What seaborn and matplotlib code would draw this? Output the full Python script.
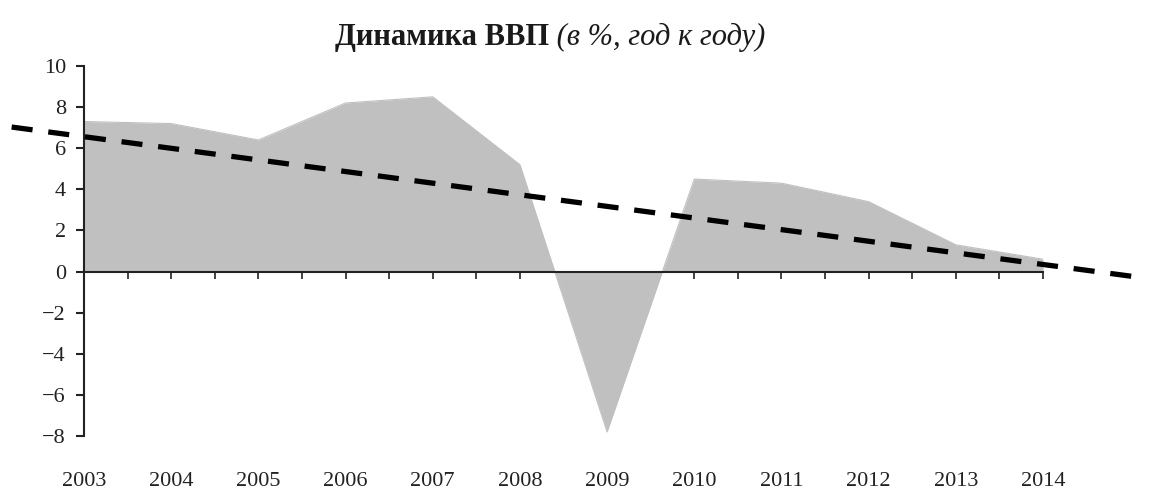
import matplotlib
matplotlib.use('Agg')
import matplotlib.pyplot as plt
import numpy as np
import pandas as pd
import seaborn as sns

# GDP growth, % year on year
years = [2003, 2004, 2005, 2006, 2007, 2008, 2009, 2010, 2011, 2012, 2013, 2014]
gdp_growth = [7.3, 7.2, 6.4, 8.2, 8.5, 5.2, -7.8, 4.5, 4.3, 3.4, 1.3, 0.6]

# hand-drawn trend line (ends)
trend_years = [2002.17, 2015.14]
trend_values = [7.03, -0.30]

year_labels = [str(y) for y in years]
y_ticks = [-8, -6, -4, -2, 0, 2, 4, 6, 8, 10]

sns.set_theme(style='white')
plt.rcParams['font.family'] = ['Liberation Serif', 'DejaVu Serif']
plt.rcParams['axes.unicode_minus'] = True

df = pd.DataFrame({'year': years, 'gdp': gdp_growth})

fig = plt.figure(figsize=(11.55, 4.91), dpi=100)
ax = fig.add_axes([84 / 1155, 1 - 436 / 491, (1043 - 84) / 1155, (436 - 66) / 491])

fill_color = '#c0c0c0'
sns.lineplot(data=df, x='year', y='gdp', ax=ax, color=fill_color, linewidth=0.8)
ax.fill_between(df['year'], df['gdp'], 0, color=fill_color, linewidth=0)

ax.plot(trend_years, trend_values, color='black', linewidth=3.8,
        dashes=(4.0, 3.0), clip_on=False, zorder=5)

ax.set_xlim(2003, 2014)
ax.set_ylim(-8, 10)

axis_color = '#222222'
for side in ['top', 'right']:
    ax.spines[side].set_visible(False)
ax.spines['left'].set_color(axis_color)
ax.spines['left'].set_linewidth(1.5)
ax.spines['bottom'].set_position(('data', 0))
ax.spines['bottom'].set_color(axis_color)
ax.spines['bottom'].set_linewidth(1.5)

# half-year tick marks on the zero line, no labels
half_years = np.arange(2003, 2014.01, 0.5)
ax.set_xticks(half_years)
ax.set_xticklabels([])
ax.tick_params(axis='x', direction='out', length=5, width=1.2, color=axis_color, bottom=True)

ax.set_yticks(y_ticks)
ax.tick_params(axis='y', direction='out', length=6, width=1.5, color=axis_color,
               left=True, labelsize=16, pad=7, labelcolor='#222222')
ax.set_xlabel('')
ax.set_ylabel('')

# year labels along the bottom of the plot area
sec = ax.secondary_xaxis(0)
sec.set_xticks(years, labels=year_labels)
sec.spines['bottom'].set_visible(False)
sec.tick_params(axis='x', length=0, pad=26, labelsize=16, labelcolor='#222222')

# title: bold part + italic part on one baseline
title_y = 1 - 45 / 491
t1 = fig.text(0, title_y, 'Динамика ВВП', fontsize=22, fontweight='bold',
              va='baseline', color='#1a1a1a')
t2 = fig.text(0, title_y, ' (в %, год к году)', fontsize=22, fontstyle='italic',
              va='baseline', color='#1a1a1a')
fig.canvas.draw()
r = fig.canvas.get_renderer()
w1 = t1.get_window_extent(r).width
w2 = t2.get_window_extent(r).width
start = 550 - (w1 + w2) / 2
t1.set_x(start / 1155)
t2.set_x((start + w1) / 1155)

fig.savefig('out.png', dpi=100)
